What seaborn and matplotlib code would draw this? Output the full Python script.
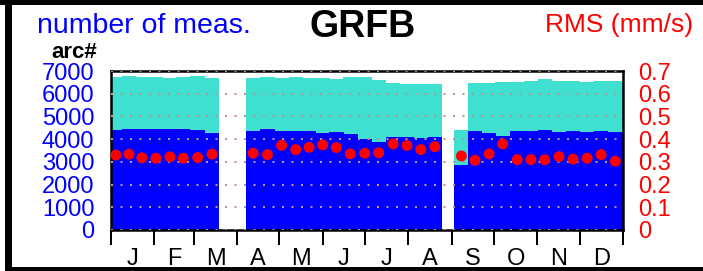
import numpy as np
import matplotlib
matplotlib.use('Agg')
import matplotlib.pyplot as plt
import seaborn as sns
from matplotlib.patches import Rectangle

# ---- data ----
arc_day = [3.5, 12.8, 22, 32, 42, 51.5, 61.8, 72,
           101.3, 111.5, 121.6, 131.7, 141.2, 150.9, 160.6, 170.6, 180.9, 190.8, 201.1, 211.0, 220.9, 230.8,
           249.8, 259.5, 269.5, 279.2, 289.6, 299.4, 309.2, 319.4, 329.4, 339.4, 349.4, 359.5]
n_total = [6730, 6765, 6750, 6735, 6690, 6750, 6765, 6680,
           6690, 6750, 6676, 6735, 6690, 6705, 6662, 6750, 6750, 6617, 6470, 6426, 6440, 6440,
           4390, 6455, 6470, 6514, 6514, 6543, 6646, 6558, 6558, 6514, 6558, 6573]
n_lower = [4410, 4440, 4455, 4440, 4440, 4455, 4410, 4290,
           4380, 4440, 4353, 4353, 4338, 4265, 4309, 4235, 4015, 3870, 4090, 4090, 4058, 4090,
           2880, 4338, 4265, 4117, 4353, 4367, 4397, 4323, 4353, 4309, 4338, 4309]
rms = [0.330, 0.334, 0.318, 0.316, 0.322, 0.316, 0.319, 0.334,
       0.338, 0.332, 0.373, 0.354, 0.364, 0.375, 0.363, 0.335, 0.338, 0.340, 0.379, 0.372, 0.354, 0.367,
       0.326, 0.307, 0.335, 0.379, 0.310, 0.310, 0.309, 0.323, 0.312, 0.316, 0.332, 0.303]
month_labels = ['J', 'F', 'M', 'A', 'M', 'J', 'J', 'A', 'S', 'O', 'N', 'D']
month_days = [31, 28, 31, 30, 31, 30, 31, 31, 30, 31, 30, 31]
count_ticks = [0, 1000, 2000, 3000, 4000, 5000, 6000, 7000]
rms_ticks = [0, 0.1, 0.2, 0.3, 0.4, 0.5, 0.6, 0.7]
rms_labels = ['0', '0.1', '0.2', '0.3', '0.4', '0.5', '0.6', '0.7']

sns.set_style('white')
plt.rcParams['font.family'] = ['Liberation Sans', 'DejaVu Sans']

W, H = 703, 271
fig = plt.figure(figsize=(W / 100, H / 100), dpi=100)
ax = fig.add_axes([111 / W, 1 - 230 / H, (623 - 111) / W, (230 - 71) / H])

bar_w = 10.3
ax.bar(arc_day, n_total, width=bar_w, color='#40e0d0', linewidth=0, antialiased=False, zorder=1)
ax.bar(arc_day, n_lower, width=bar_w, color='#0000ff', linewidth=0, antialiased=False, zorder=1.1)

ax.set_xlim(0, 365)
ax.set_ylim(0, 7000)
ax.set_axisbelow(False)
ax.yaxis.grid(True, color='#b89494', linestyle=(0, (1, 3.75)), linewidth=1.44)
ax.xaxis.grid(False)

ax.set_yticks(count_ticks)
ax.set_yticklabels([str(v) for v in count_ticks])
ax.tick_params(axis='y', length=0, pad=12, labelsize=17, labelcolor='#0000ff')

edges = np.concatenate([[0], np.cumsum(month_days)])
centers = edges[:-1] + np.array(month_days) / 2
ax.set_xticks(edges)
ax.set_xticklabels([])
ax.set_xticks(centers, minor=True)
ax.set_xticklabels(month_labels, minor=True)
ax.tick_params(axis='x', which='major', length=10.8, width=1.44, direction='out', color='black', bottom=True)
ax.tick_params(axis='x', which='minor', length=0, pad=13, labelsize=17, labelcolor='black')

for s in ax.spines.values():
    s.set_visible(True)
    s.set_color('black')
    s.set_linewidth(1.8)

ax2 = ax.twinx()
ax2.set_ylim(0, 0.7)
sns.scatterplot(x=arc_day, y=rms, ax=ax2, color='#ff0000', s=62, edgecolor='none',
                linewidth=0, zorder=5, clip_on=False, legend=False)
ax2.set_yticks(rms_ticks)
ax2.set_yticklabels(rms_labels)
ax2.tick_params(axis='y', length=0, pad=11, labelsize=17, labelcolor='#ff0000')
ax2.set_xlim(0, 365)
for s in ax2.spines.values():
    s.set_visible(False)

fig.text(36.7 / W, 1 - 33 / H, 'number of meas.', color='#0000ff', fontsize=20.5,
         ha='left', va='baseline')
fig.text(363 / W, 1 - 36.5 / H, 'GRFB', color='black', fontsize=27, fontweight='bold',
         ha='center', va='baseline')
fig.text(693 / W, 1 - 32 / H, 'RMS (mm/s)', color='#ff0000', fontsize=19,
         ha='right', va='baseline')
fig.text(51 / W, 1 - 58 / H, 'arc#', color='black', fontsize=16, fontweight='bold',
         ha='left', va='baseline')

# figure frame
for (x0, y0, w, h) in [(0, 0, W, 5), (5, 0, 7, H), (5, 267, W - 5, 4)]:
    fig.add_artist(Rectangle((x0 / W, 1 - (y0 + h) / H), w / W, h / H,
                             transform=fig.transFigure, color='black', linewidth=0))

fig.savefig('out.png', dpi=100)
